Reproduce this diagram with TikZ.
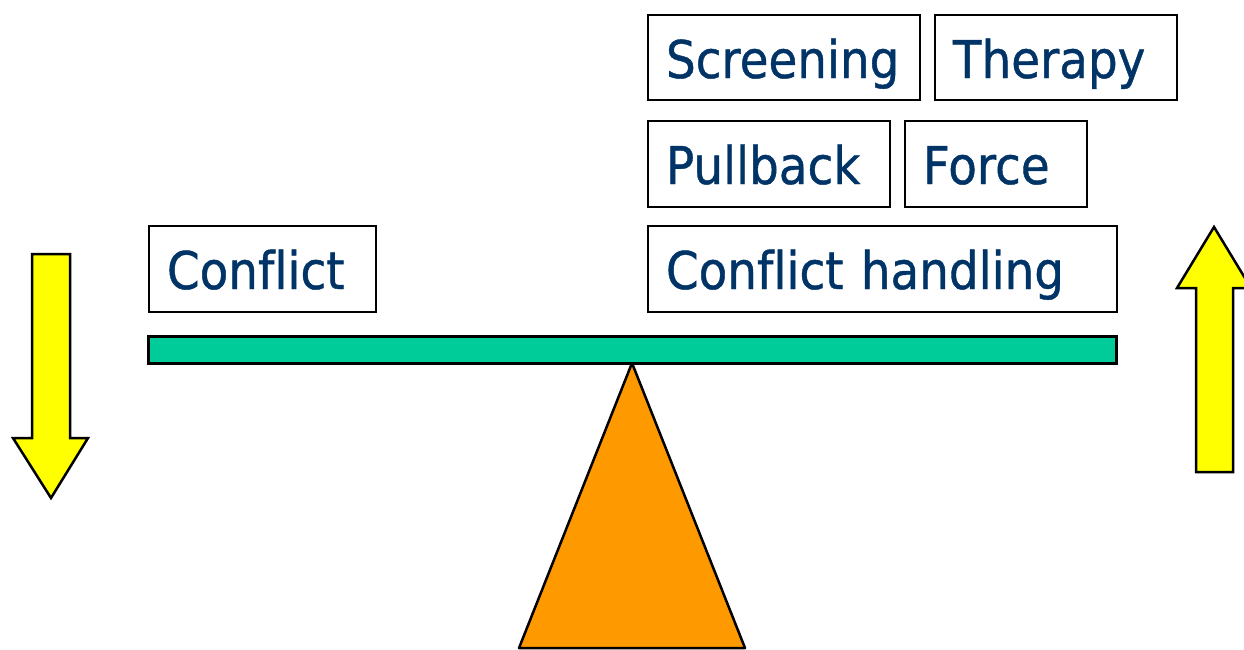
\documentclass[tikz,border=0pt]{standalone}
\usepackage{fontspec}
\setmainfont[FakeStretch=0.90, FakeBold=0.8, Ligatures={NoCommon}]{DejaVu Sans}
\definecolor{txtblue}{HTML}{003366}
\definecolor{beamgreen}{HTML}{00CC99}
\definecolor{fulcrum}{HTML}{FF9900}
\definecolor{arrowyellow}{HTML}{FFFF00}
\tikzset{
  wordbox/.style={draw=black, line width=2pt, anchor=north west, inner xsep=18pt, inner ysep=0pt,
    minimum height=86pt, text height=63pt, text depth=23pt, align=left, text=txtblue,
    font=\fontsize{52}{60}\selectfont},
  bigarrow/.style={draw=black, line width=2.5pt, fill=arrowyellow, line join=miter}
}
\begin{document}
\begin{tikzpicture}[x=1pt,y=-1pt]
\useasboundingbox (0,0) rectangle (1244,649);
\clip (0,0) rectangle (1244,649);
% fulcrum and beam
\draw[line width=2.5pt, fill=fulcrum, line join=round] (632,363) -- (745,648) -- (519,648) -- cycle;
\draw[line width=3pt, fill=beamgreen] (148,336) rectangle (1116,363);
% boxes
\node[wordbox, minimum width=227pt, text width=191pt] (conflict) at (148,225) {Conflict};
\node[wordbox, minimum width=469pt, text width=433pt] (handling) at (647,225) {Conflict handling};
\node[wordbox, minimum width=242pt, text width=206pt] (pullback) at (647,120) {Pullback};
\node[wordbox, minimum width=182pt, text width=146pt] (force) at (904,120) {Force};
\node[wordbox, minimum width=272pt, text width=236pt, minimum height=85pt, text height=63pt, text depth=22pt] (screening) at (647,14) {Screening};
\node[wordbox, minimum width=242pt, text width=206pt, minimum height=85pt, text height=63pt, text depth=22pt] (therapy) at (934,14) {Therapy};
% arrows
\draw[bigarrow] (32,254) -- (70,254) -- (70,438) -- (88,438) -- (51,498) -- (13,438) -- (32,438) -- cycle;
\draw[bigarrow] (1196,472) -- (1233,472) -- (1233,288) -- (1251,288) -- (1214,227) -- (1177,288) -- (1196,288) -- cycle;
\end{tikzpicture}
\end{document}
